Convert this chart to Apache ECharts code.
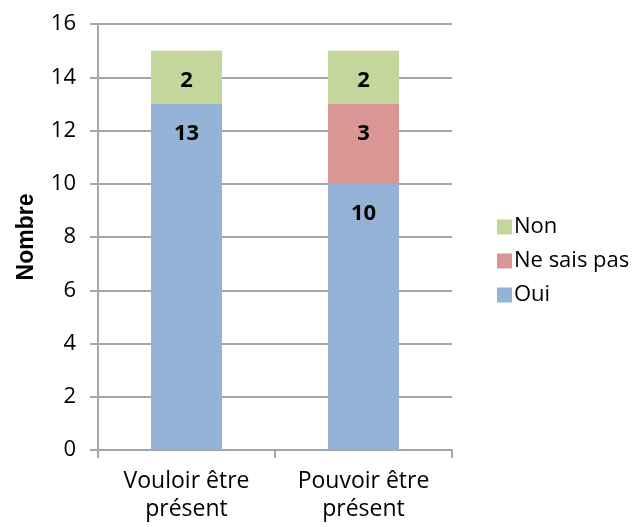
<!DOCTYPE html>
<html>
<head>
<meta charset="utf-8">
<script src="https://cdn.jsdelivr.net/npm/echarts@6/dist/echarts.min.js"></script>
<style>
  html, body { margin: 0; padding: 0; background: #fff; }
  #chart { width: 634px; height: 527px; }
</style>
</head>
<body>
<div id="chart"></div>
<script>
// data
var categories = ['Vouloir être\nprésent', 'Pouvoir être\nprésent'];
var oui = [13, 10];
var neSaisPas = [0, 3];
var non = [2, 2];
var yTicks = { min: 0, max: 16, interval: 2 };

var FONT = 'Open Sans';
var gridColor = '#A6A6A6';

// label near the top of each segment, like excel "inside end"
function segLabel() {
  return {
    show: true,
    position: 'insideTop',
    distance: 19,
    fontFamily: FONT,
    fontWeight: 'bold',
    fontSize: 22,
    color: '#000',
    formatter: function (p) { return p.value ? p.value : ''; }
  };
}

var chart = echarts.init(document.getElementById('chart'));
chart.setOption({
  animation: false,
  textStyle: { fontFamily: FONT },
  grid: { left: 98, right: 182, top: 24, bottom: 77 },
  legend: {
    orient: 'vertical',
    left: 492,
    top: 211,
    itemWidth: 15,
    itemHeight: 15,
    itemGap: 12,
    icon: 'rect',
    textStyle: { fontFamily: FONT, fontSize: 22, color: '#000', padding: [0, 0, 0, -3] },
    data: ['Non', 'Ne sais pas', 'Oui']
  },
  xAxis: {
    type: 'category',
    data: categories,
    axisLine: { lineStyle: { color: gridColor, width: 2 } },
    axisTick: { show: true, length: 8, alignWithLabel: false, lineStyle: { color: gridColor, width: 2 } },
    axisLabel: { interval: 0, margin: 17, fontSize: 23, lineHeight: 28, color: '#000', fontFamily: FONT }
  },
  yAxis: {
    type: 'value',
    min: yTicks.min,
    max: yTicks.max,
    interval: yTicks.interval,
    name: 'Nombre',
    nameLocation: 'middle',
    nameGap: 60,
    nameTextStyle: { fontFamily: 'Liberation Sans', fontWeight: 'bold', fontSize: 23, color: '#000' },
    axisLine: { show: true, lineStyle: { color: gridColor, width: 2 } },
    axisTick: { show: true, length: 8, lineStyle: { color: gridColor, width: 2 } },
    axisLabel: { margin: 22, fontSize: 22, color: '#000', fontFamily: FONT },
    splitLine: { lineStyle: { color: gridColor, width: 2 } }
  },
  series: [
    { name: 'Oui', type: 'bar', stack: 'total', data: oui, barWidth: 71,
      itemStyle: { color: '#95B3D7' }, label: segLabel() },
    { name: 'Ne sais pas', type: 'bar', stack: 'total', data: neSaisPas, barWidth: 71,
      itemStyle: { color: '#D99694' }, label: segLabel() },
    { name: 'Non', type: 'bar', stack: 'total', data: non, barWidth: 71,
      itemStyle: { color: '#C3D69B' }, label: segLabel() }
  ]
});
</script>
</body>
</html>
